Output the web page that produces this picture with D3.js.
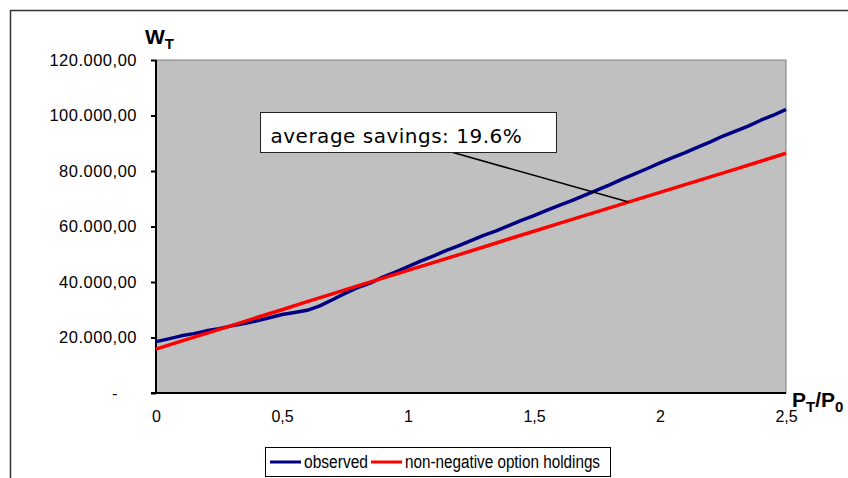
<!DOCTYPE html>
<html>
<head>
<meta charset="utf-8">
<script src="https://cdn.jsdelivr.net/npm/d3@7"></script>
<style>
  html, body { margin: 0; padding: 0; background: #fff; }
  svg { display: block; }
</style>
</head>
<body>
<svg id="chart" width="848" height="478"></svg>
<script>
// Terminal wealth W_T against the price ratio P_T/P_0
const ratioObserved = [0, 0.05, 0.1, 0.15, 0.2, 0.25, 0.3, 0.35, 0.4, 0.45, 0.5, 0.55, 0.6, 0.65, 0.7, 0.75, 0.8, 0.85, 0.9, 0.95,
  1.0, 1.05, 1.1, 1.15, 1.2, 1.25, 1.3, 1.35, 1.4, 1.45, 1.5, 1.55, 1.6, 1.65, 1.7, 1.75, 1.8, 1.85, 1.9, 1.95,
  2.0, 2.05, 2.1, 2.15, 2.2, 2.25, 2.3, 2.35, 2.4, 2.45, 2.5];
const wealthObserved = [18500, 19500, 20600, 21400, 22400, 23200, 24200, 25000, 26000, 27100, 28300, 29000, 29800, 31400, 33600, 35900, 38000, 39600, 41800, 43600,
  45500, 47500, 49300, 51300, 53000, 54900, 56800, 58400, 60300, 62200, 63900, 65800, 67600, 69300, 71200, 73100, 75000, 77100, 79000, 80900,
  82900, 84800, 86600, 88600, 90500, 92600, 94400, 96200, 98300, 100100, 102200];

const ratioNonNeg = [0, 0.1, 0.2, 0.3, 0.4, 0.5, 0.6, 0.7, 0.8, 0.9, 1.0, 1.1, 1.2, 1.3, 1.4, 1.5, 1.6, 1.7, 1.8, 1.9,
  2.0, 2.1, 2.2, 2.3, 2.4, 2.5];
const wealthNonNeg = [15800, 18700, 21500, 24300, 27200, 30000, 32900, 35700, 38600, 41400, 44200, 47000, 49800, 52600, 55500, 58300, 61100, 63900, 66700, 69500,
  72300, 75100, 77900, 80700, 83500, 86400];

const yTicks = [0, 20000, 40000, 60000, 80000, 100000, 120000];
const xTicks = [0, 0.5, 1, 1.5, 2, 2.5];
const seriesNames = ["observed", "non-negative option holdings"];
const seriesColors = ["#000080", "#ff0000"];
const noteText = "average savings: 19.6%";
const noteAnchor = [1.875, 68800];

const svg = d3.select("#chart");
const plot = { left: 156, top: 60, right: 786, bottom: 393 };

const x = d3.scaleLinear().domain([0, 2.5]).range([plot.left, plot.right]);
const y = d3.scaleLinear().domain([0, 120000]).range([plot.bottom, plot.top]);

// outer frame
svg.append("rect")
  .attr("x", 10.5).attr("y", 10.5).attr("width", 900).attr("height", 600)
  .attr("fill", "none").attr("stroke", "#333").attr("stroke-width", 1.5);

// plot area
svg.append("rect")
  .attr("x", plot.left).attr("y", plot.top)
  .attr("width", plot.right - plot.left).attr("height", plot.bottom - plot.top)
  .attr("fill", "#c0c0c0").attr("stroke", "#808080").attr("stroke-width", 1);

// number formatting: thousands '.', decimals ','
const fmtY = v => v === 0 ? "-" : d3.format(",.2f")(v).replace(/,/g, "#").replace(/\./g, ",").replace(/#/g, ".");
const fmtX = v => String(v).replace(".", ",");

// y axis
const yAxis = svg.append("g")
  .attr("transform", `translate(${plot.left},0)`)
  .call(d3.axisLeft(y).tickValues(yTicks).tickFormat(fmtY).tickSize(5).tickPadding(14));
yAxis.select(".domain").attr("stroke", "#000").attr("stroke-width", 2).attr("d", `M0,${plot.top}V${plot.bottom + 1}`);
yAxis.selectAll(".tick line").attr("stroke", "#000").attr("stroke-width", 2);
yAxis.selectAll(".tick text")
  .attr("font-family", "'Liberation Sans', Arial, sans-serif")
  .attr("font-size", 16.5).attr("fill", "#000").attr("letter-spacing", 0.5)
  .filter(d => d === 0).attr("x", -38);

// x axis
const xAxis = svg.append("g")
  .attr("transform", `translate(0,${plot.bottom})`)
  .call(d3.axisBottom(x).tickValues(xTicks).tickFormat(fmtX).tickSize(0).tickPadding(18));
xAxis.select(".domain").attr("stroke", "#000").attr("stroke-width", 2).attr("d", `M${plot.left - 5},0H${plot.right}`);
xAxis.selectAll(".tick text")
  .attr("font-family", "'Liberation Sans', Arial, sans-serif")
  .attr("font-size", 16).attr("fill", "#000");

// series lines
const line = d3.line().x(d => x(d[0])).y(d => y(d[1]));
const observed = ratioObserved.map((r, i) => [r, wealthObserved[i]]);
const nonNeg = ratioNonNeg.map((r, i) => [r, wealthNonNeg[i]]);

svg.append("path").datum(observed)
  .attr("d", line).attr("fill", "none")
  .attr("stroke", seriesColors[0]).attr("stroke-width", 3.5).attr("stroke-linejoin", "round");
svg.append("path").datum(nonNeg)
  .attr("d", line).attr("fill", "none")
  .attr("stroke", seriesColors[1]).attr("stroke-width", 3.5).attr("stroke-linejoin", "round");

// annotation with leader
const box = { x: 260.5, y: 112.5, w: 296, h: 40 };
svg.append("line")
  .attr("x1", 453).attr("y1", box.y + box.h)
  .attr("x2", x(noteAnchor[0])).attr("y2", y(noteAnchor[1]))
  .attr("stroke", "#000").attr("stroke-width", 1.5);
svg.append("rect")
  .attr("x", box.x).attr("y", box.y).attr("width", box.w).attr("height", box.h)
  .attr("fill", "#fff").attr("stroke", "#222").attr("stroke-width", 1);
svg.append("text")
  .attr("x", 270.5).attr("y", 142.5)
  .attr("font-family", "'DejaVu Sans', Verdana, sans-serif")
  .attr("font-size", 20).attr("letter-spacing", 0.5).attr("fill", "#000")
  .text(noteText);

// axis titles
const bold = "'Liberation Sans', Arial, sans-serif";
const wt = svg.append("text").attr("x", 145).attr("y", 43.5)
  .attr("font-family", bold).attr("font-weight", "bold").attr("font-size", 21).attr("fill", "#000");
wt.append("tspan").text("W");
wt.append("tspan").attr("dy", 5).attr("font-size", 15).text("T");

const pt = svg.append("text").attr("x", 792).attr("y", 407)
  .attr("font-family", bold).attr("font-weight", "bold").attr("font-size", 21).attr("fill", "#000");
pt.append("tspan").text("P");
pt.append("tspan").attr("dy", 5).attr("font-size", 15).text("T");
pt.append("tspan").attr("dy", -5).text("/P");
pt.append("tspan").attr("dy", 5).attr("font-size", 15).text("0");

// legend
const legend = svg.append("g");
legend.append("rect")
  .attr("x", 265.5).attr("y", 447.5).attr("width", 345).attr("height", 29)
  .attr("fill", "#fff").attr("stroke", "#000").attr("stroke-width", 1);
const legendItems = [
  { x: 270, textW: 64 },
  { x: 371, textW: 195 }
];
seriesNames.forEach((name, i) => {
  const it = legendItems[i];
  legend.append("line")
    .attr("x1", it.x).attr("x2", it.x + 31).attr("y1", 462).attr("y2", 462)
    .attr("stroke", seriesColors[i]).attr("stroke-width", 3);
  legend.append("text")
    .attr("x", it.x + 34).attr("y", 468)
    .attr("font-family", "'Liberation Sans', Arial, sans-serif")
    .attr("font-size", 18).attr("fill", "#000")
    .attr("textLength", it.textW).attr("lengthAdjust", "spacingAndGlyphs")
    .text(name);
});
</script>
</body>
</html>
